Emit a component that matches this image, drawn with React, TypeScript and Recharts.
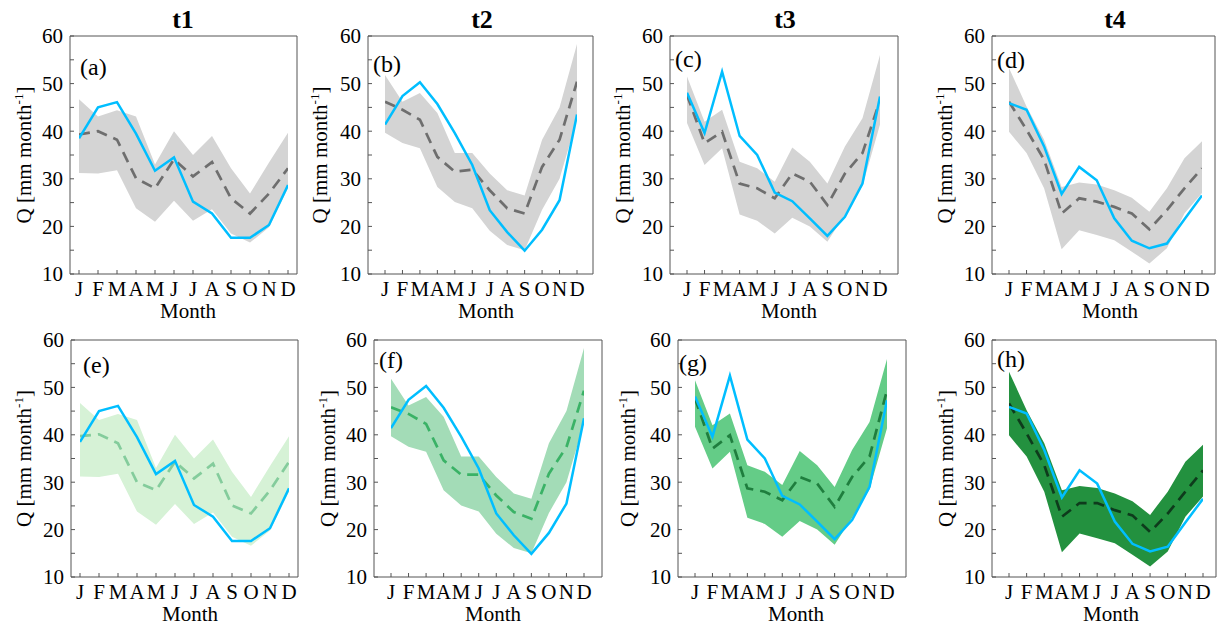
import React from 'react';
import { ComposedChart, Area, Line, XAxis, YAxis } from 'recharts';

const months = ['J', 'F', 'M', 'A', 'M', 'J', 'J', 'A', 'S', 'O', 'N', 'D'];
const monthIdx = [0, 1, 2, 3, 4, 5, 6, 7, 8, 9, 10, 11];
const yTicks = [10, 15, 20, 25, 30, 35, 40, 45, 50, 55, 60];
const titles = ['t1', 't2', 't3', 't4'];

// Observed (blue)
const obs1 = [38.5, 45.0, 46.1, 39.5, 31.7, 34.5, 25.2, 22.7, 17.6, 17.6, 20.3, 28.7];
const obs2 = [41.4, 47.4, 50.3, 45.7, 39.6, 32.9, 23.4, 18.8, 14.9, 19.3, 25.5, 43.5];
const obs3 = [48.1, 39.6, 52.5, 39.0, 35.0, 27.1, 25.3, 21.7, 18.0, 22.0, 29.0, 47.3];
const obs4 = [45.9, 44.5, 36.8, 26.8, 32.5, 29.7, 21.7, 17.0, 15.4, 16.4, 21.5, 26.5];

// Median (dashed), top row
const medA = [39.3, 40.0, 38.2, 30.1, 28.0, 34.1, 30.5, 33.5, 25.9, 22.7, 26.9, 32.2];
const medB = [46.2, 44.5, 42.4, 34.6, 31.5, 31.9, 27.6, 23.8, 22.7, 32.5, 38.2, 50.4];
const medC = [47.6, 37.5, 39.9, 29.0, 28.0, 25.9, 31.1, 29.4, 24.5, 31.1, 35.4, 46.5];
const medD = [46.2, 40.3, 34.0, 22.7, 25.9, 25.2, 24.1, 22.7, 19.4, 23.4, 28.0, 32.2];
// Median (dashed), bottom row
const medE = [39.7, 40.1, 38.2, 30.0, 28.3, 34.3, 30.8, 33.9, 25.1, 23.4, 28.3, 34.3];
const medF = [45.8, 44.4, 42.3, 34.6, 31.6, 31.6, 27.2, 23.7, 22.3, 31.8, 37.4, 49.3];
const medG = [47.7, 37.1, 39.9, 28.7, 28.0, 26.2, 31.1, 29.7, 24.8, 31.1, 35.4, 49.4];
const medH = [46.6, 40.3, 33.6, 22.7, 25.6, 25.6, 24.1, 23.0, 19.5, 23.4, 28.0, 32.5];

// Ensemble range (shaded band)
const low1 = [31.2, 31.1, 31.8, 23.8, 21.0, 25.4, 21.2, 23.6, 18.5, 16.6, 19.8, 28.0];
const high1 = [46.7, 43.1, 44.4, 43.1, 33.0, 40.0, 35.0, 39.0, 32.2, 26.9, 33.4, 39.7];
const low2 = [39.7, 37.5, 36.4, 28.3, 25.1, 23.8, 19.1, 16.1, 15.0, 23.5, 30.0, 42.5];
const high2 = [51.8, 46.2, 48.0, 43.8, 35.4, 35.4, 31.1, 27.6, 26.5, 38.2, 45.0, 58.3];
const low3 = [41.7, 32.9, 36.4, 22.5, 21.2, 18.5, 21.8, 20.0, 16.8, 22.5, 28.5, 41.4];
const high3 = [51.5, 42.0, 44.5, 33.6, 32.2, 29.4, 36.6, 33.6, 29.0, 36.8, 42.7, 56.0];
const low4 = [39.9, 35.4, 28.0, 15.2, 19.2, 18.2, 17.1, 14.7, 12.2, 15.4, 22.7, 27.0];
const high4 = [53.3, 45.2, 38.2, 28.3, 29.2, 28.8, 27.6, 26.0, 23.1, 28.0, 34.3, 37.9];

const FONT = '"Liberation Serif", "Times New Roman", Times, serif';
const BLUE = '#00BEFF';
const FRAME = '#555555';
const INK = '#000';

type PanelCfg = {
  letter: string;
  obs: number[];
  med: number[];
  low: number[];
  high: number[];
  band: string;
  dash: string;
  x: number;
  y: number;
  w: number;
  h: number;
  padL: number;
  padR: number;
  ylabX: number;
  monthX: number;
  letX: number;
  letY: number;
};

const panels: PanelCfg[] = [
  { letter: '(a)', obs: obs1, med: medA, low: low1, high: high1, band: '#D4D4D4', dash: '#6E6E6E', x: 70, y: 36, w: 227, h: 238, padL: 9, padR: 9, ylabX: 24, monthX: 188, letX: 80, letY: 75 },
  { letter: '(b)', obs: obs2, med: medB, low: low2, high: high2, band: '#D4D4D4', dash: '#6E6E6E', x: 368, y: 36, w: 225, h: 238, padL: 17, padR: 16, ylabX: 320, monthX: 486, letX: 373, letY: 72 },
  { letter: '(c)', obs: obs3, med: medC, low: low3, high: high3, band: '#D4D4D4', dash: '#6E6E6E', x: 670, y: 36, w: 228, h: 238, padL: 17, padR: 18, ylabX: 623, monthX: 789, letX: 675, letY: 67 },
  { letter: '(d)', obs: obs4, med: medD, low: low4, high: high4, band: '#D4D4D4', dash: '#6E6E6E', x: 992, y: 36, w: 223, h: 238, padL: 17, padR: 13, ylabX: 945, monthX: 1110, letX: 997, letY: 68 },
  { letter: '(e)', obs: obs1, med: medE, low: low1, high: high1, band: '#D6F2D6', dash: '#84CC9C', x: 71, y: 340, w: 227, h: 237, padL: 9, padR: 9, ylabX: 24, monthX: 190, letX: 83, letY: 373 },
  { letter: '(f)', obs: obs2, med: medF, low: low2, high: high2, band: '#A3DCB7', dash: '#3AB266', x: 374, y: 340, w: 228, h: 237, padL: 17, padR: 18, ylabX: 328, monthX: 493, letX: 379, letY: 368 },
  { letter: '(g)', obs: obs3, med: medG, low: low3, high: high3, band: '#64CC87', dash: '#1F7E3E', x: 678, y: 340, w: 228, h: 237, padL: 17, padR: 19, ylabX: 628, monthX: 796, letX: 679, letY: 371 },
  { letter: '(h)', obs: obs4, med: medH, low: low4, high: high4, band: '#23913F', dash: '#0E3B1C', x: 992, y: 340, w: 224, h: 237, padL: 17, padR: 13, ylabX: 946, monthX: 1111, letX: 997, letY: 367 },
];

const titleX = [183, 482, 785, 1115];

const ML = 70;
const MTOP = 14; // blank margin above top axis
const TAX = 10; // top axis height
const MR = 10;
const MB = 50;

function Panel({ p }: { p: PanelCfg }) {
  const data = monthIdx.map((i) => ({
    i,
    obs: p.obs[i],
    med: p.med[i],
    band: [p.low[i], p.high[i]],
  }));
  const width = ML + p.w + MR;
  const height = MTOP + TAX + p.h + MB;
  const tickStyle = { fill: INK, fontSize: 21, fontFamily: FONT };
  return (
    <div style={{ position: 'absolute', left: p.x - ML, top: p.y - MTOP - TAX }}>
      <ComposedChart width={width} height={height} data={data} margin={{ top: MTOP, right: 0, bottom: 0, left: 0 }}>
        <XAxis
          dataKey="i"
          type="number"
          domain={[0, 11]}
          ticks={monthIdx}
          interval={0}
          tickFormatter={(v: number) => months[v]}
          padding={{ left: p.padL, right: p.padR }}
          height={MB}
          tickSize={-4}
          tickMargin={11}
          stroke={FRAME}
          tick={tickStyle}
          allowDataOverflow
        />
        <XAxis
          xAxisId="top"
          orientation="top"
          dataKey="i"
          type="number"
          domain={[0, 11]}
          ticks={monthIdx}
          interval={0}
          padding={{ left: p.padL, right: p.padR }}
          height={TAX}
          tickSize={-4}
          tick={false}
          stroke={FRAME}
        />
        <YAxis
          domain={[10, 60]}
          ticks={yTicks}
          interval={0}
          width={ML}
          tickSize={-4}
          tickMargin={11}
          tickFormatter={(v: number) => (v % 10 === 0 ? String(v) : '')}
          stroke={FRAME}
          tick={tickStyle}
          allowDataOverflow
        />
        <YAxis
          yAxisId="r"
          orientation="right"
          domain={[10, 60]}
          ticks={yTicks}
          interval={0}
          width={MR}
          tickSize={-4}
          tick={false}
          stroke={FRAME}
        />
        <Area dataKey="band" type="linear" fill={p.band} fillOpacity={1} stroke="none" isAnimationActive={false} />
        <Line dataKey="med" type="linear" stroke={p.dash} strokeWidth={2.7} strokeDasharray="11 7" dot={false} isAnimationActive={false} />
        <Line dataKey="obs" type="linear" stroke={BLUE} strokeWidth={2.5} dot={false} isAnimationActive={false} />
      </ComposedChart>
    </div>
  );
}

export default function App() {
  return (
    <div style={{ position: 'absolute', left: 0, top: 0, width: 1223, height: 627, background: '#fff', overflow: 'hidden' }}>
      {panels.map((p, k) => (
        <Panel key={k} p={p} />
      ))}
      <svg width={1223} height={627} style={{ position: 'absolute', left: 0, top: 0, pointerEvents: 'none' }}>
        {titles.map((t, k) => (
          <text key={t} x={titleX[k]} y={28} textAnchor="middle" fontFamily={FONT} fontWeight="bold" fontSize={26} fill={INK}>
            {t}
          </text>
        ))}
        {panels.map((p, k) => {
          const cy = p.y + p.h / 2;
          return (
            <g key={k}>
              <text x={p.letX} y={p.letY} fontFamily={FONT} fontSize={24} fill={INK}>
                {p.letter}
              </text>
              <text x={p.monthX} y={p.y + p.h + 44} textAnchor="middle" fontFamily={FONT} fontSize={21} fill={INK}>
                Month
              </text>
              <text
                x={p.ylabX}
                y={cy}
                dy={7}
                textAnchor="middle"
                transform={`rotate(-90 ${p.ylabX} ${cy})`}
                fontFamily={FONT}
                fontSize={21}
                fill={INK}
              >
                Q [mm month
                <tspan fontSize={13} dy={-8}>-1</tspan>
                <tspan dy={8}>]</tspan>
              </text>
            </g>
          );
        })}
      </svg>
    </div>
  );
}
